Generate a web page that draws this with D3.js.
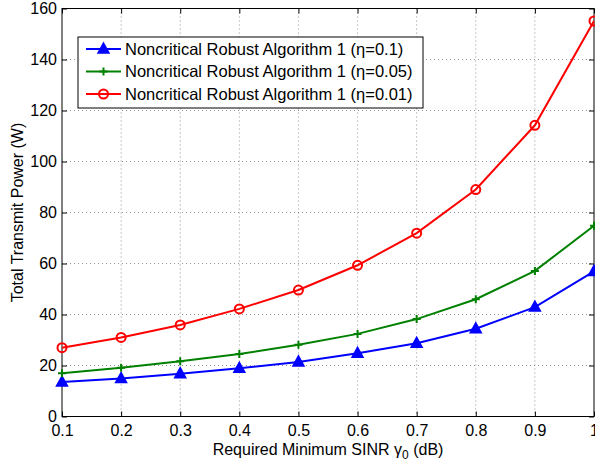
<!DOCTYPE html>
<html>
<head>
<meta charset="utf-8">
<script src="https://cdn.jsdelivr.net/npm/d3@7"></script>
<style>
  body { margin: 0; background: #fff; }
  svg { display: block; font-family: "Liberation Sans", Arial, sans-serif; }
</style>
</head>
<body>
<svg id="chart" width="595" height="463"></svg>
<script>
// values
var sinr = [0.1, 0.2, 0.3, 0.4, 0.5, 0.6, 0.7, 0.8, 0.9, 1.0];
var eta01 = [13.5, 14.9, 16.8, 18.9, 21.4, 24.8, 28.7, 34.4, 42.9, 56.9];
var eta005 = [17.0, 19.1, 21.7, 24.5, 28.1, 32.4, 38.2, 46.0, 57.1, 74.8];
var eta001 = [27.0, 31.0, 35.9, 42.2, 49.6, 59.3, 71.9, 89.0, 114.2, 155.1];
var xTicks = [0.1, 0.2, 0.3, 0.4, 0.5, 0.6, 0.7, 0.8, 0.9, 1];
var yTicks = [0, 20, 40, 60, 80, 100, 120, 140, 160];

var series = [
  {name: "Noncritical Robust Algorithm 1 (\u03b7=0.1)", values: eta01, color: "#0000ff", marker: "tri"},
  {name: "Noncritical Robust Algorithm 1 (\u03b7=0.05)", values: eta005, color: "#008000", marker: "plus"},
  {name: "Noncritical Robust Algorithm 1 (\u03b7=0.01)", values: eta001, color: "#ff0000", marker: "circle"}
];

var margin = {top: 8.5, right: 1, bottom: 46.5, left: 62};
var WID = 595, HGT = 463;
var width = WID - margin.left - margin.right;
var height = HGT - margin.top - margin.bottom;

var svg = d3.select("#chart");
var g = svg.append("g")
    .attr("transform", "translate(" + margin.left + "," + margin.top + ")");

var x = d3.scaleLinear().domain([0.1, 1]).range([0, width]);
var y = d3.scaleLinear().domain([0, 160]).range([height, 0]);

// grid
g.append("g").selectAll("line")
  .data(xTicks.slice(1, -1))
  .enter().append("line")
    .attr("x1", function (d) { return x(d); })
    .attr("x2", function (d) { return x(d); })
    .attr("y1", 0).attr("y2", height)
    .attr("stroke", "#666").attr("stroke-width", 0.7)
    .attr("stroke-dasharray", "1,3");
g.append("g").selectAll("line")
  .data(yTicks.slice(1, -1))
  .enter().append("line")
    .attr("y1", function (d) { return y(d); })
    .attr("y2", function (d) { return y(d); })
    .attr("x1", 0).attr("x2", width)
    .attr("stroke", "#666").attr("stroke-width", 0.7)
    .attr("stroke-dasharray", "1,3");

// axes, ticks inward on all four sides
function styleAxis(sel) {
  sel.select(".domain").remove();
  sel.selectAll("line").attr("stroke", "#000");
  sel.selectAll("text").attr("font-size", 16).attr("fill", "#000")
    .attr("font-family", "Liberation Sans, Arial, sans-serif");
}
g.append("g")
  .attr("transform", "translate(0," + height + ")")
  .call(d3.axisBottom(x).tickValues(xTicks).tickSizeInner(-5).tickPadding(8).tickFormat(d3.format("")))
  .call(styleAxis);
g.append("g")
  .call(d3.axisTop(x).tickValues(xTicks).tickSizeInner(-5).tickFormat(""))
  .call(styleAxis);
g.append("g")
  .call(d3.axisLeft(y).tickValues(yTicks).tickSizeInner(-5).tickPadding(5))
  .call(styleAxis);
g.append("g")
  .attr("transform", "translate(" + width + ",0)")
  .call(d3.axisRight(y).tickValues(yTicks).tickSizeInner(-5).tickFormat(""))
  .call(styleAxis);

g.append("rect")
  .attr("width", width).attr("height", height)
  .attr("fill", "none").attr("stroke", "#000").attr("stroke-width", 1);

// lines
var line = d3.line()
  .x(function (d, i) { return x(sinr[i]); })
  .y(function (d) { return y(d); });

function drawMarker(sel, type, color) {
  if (type === "tri") {
    sel.append("path").attr("d", "M0,-6L5.5,4L-5.5,4Z")
      .attr("fill", color).attr("stroke", color).attr("stroke-width", 1.5);
  } else if (type === "plus") {
    sel.append("path").attr("d", "M-4,0H4M0,-4V4")
      .attr("stroke", color).attr("stroke-width", 2);
  } else {
    sel.append("circle").attr("r", 4.5)
      .attr("fill", "none").attr("stroke", color).attr("stroke-width", 2);
  }
}

series.forEach(function (s) {
  g.append("path")
    .datum(s.values)
    .attr("fill", "none")
    .attr("stroke", s.color)
    .attr("stroke-width", 2)
    .attr("d", line);
  g.selectAll(null)
    .data(s.values)
    .enter().append("g")
      .attr("transform", function (d, i) { return "translate(" + x(sinr[i]) + "," + y(d) + ")"; })
      .each(function () { drawMarker(d3.select(this), s.marker, s.color); });
});

// legend
var lg = svg.append("g").attr("transform", "translate(78,37)");
lg.append("rect").attr("width", 345).attr("height", 71)
  .attr("fill", "#fff").attr("stroke", "#000").attr("stroke-width", 1);
series.forEach(function (s, i) {
  var ly = 12 + i * 22.5;
  lg.append("line").attr("x1", 8).attr("x2", 43).attr("y1", ly).attr("y2", ly)
    .attr("stroke", s.color).attr("stroke-width", 2);
  var m = lg.append("g").attr("transform", "translate(25.5," + ly + ")");
  drawMarker(m, s.marker, s.color);
  lg.append("text").attr("x", 47).attr("y", ly).attr("dy", "0.35em")
    .attr("font-size", 16.5).text(s.name);
});

// axis titles
var xl = svg.append("text")
  .attr("x", margin.left + width / 2).attr("y", 455)
  .attr("text-anchor", "middle").attr("font-size", 16);
xl.append("tspan").text("Required Minimum SINR \u03b3");
xl.append("tspan").attr("font-size", 12).attr("dy", 4).text("0");
xl.append("tspan").attr("dy", -4).text(" (dB)");

svg.append("text")
  .attr("transform", "translate(23," + (margin.top + height / 2) + ") rotate(-90)")
  .attr("text-anchor", "middle").attr("font-size", 16)
  .text("Total Transmit Power (W)");
</script>
</body>
</html>
